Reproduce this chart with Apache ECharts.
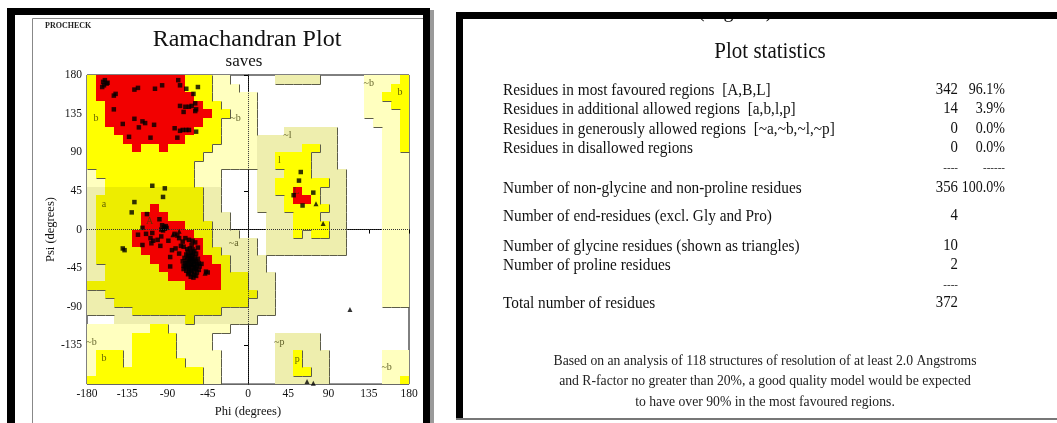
<!DOCTYPE html>
<html><head><meta charset="utf-8">
<script src="https://cdn.jsdelivr.net/npm/echarts/dist/echarts.min.js"></script>
<style>html,body{margin:0;padding:0;background:#fff}#c{width:1057px;height:423px}</style>
</head><body><div id="c"></div>
<script>
// ---------- data ----------
const phiTicks = [-180, -135, -90, -45, 0, 45, 90, 135, 180];
const psiTicks = [-180, -135, -90, -45, 0, 45, 90, 135, 180];

// Region map, one run-length row per 10 deg of psi (180 -> -180), columns phi -180 -> 180
// '.' disallowed, 'o' generous (~b), 'k' generous (~a,~l,~p), 'Y' allowed (b,l,p), 'y' allowed (a), 'R' core (A,B,L)
const regionRows = [
  "Y1 R10 Y3 o2 .5 k5 .5 o4 Y1",
  "Y1 R10 Y3 o3 .14 o3 Y2",
  "Y1 R11 Y2 o5 .12 o2 Y3",
  "Y2 R11 Y2 o4 .12 o3 Y2",
  "Y2 R12 Y2 o3 .12 o4 Y1",
  "Y2 R11 Y2 o4 .13 o3 Y1",
  "Y3 R9 Y3 o4 .3 k6 .5 o2 Y1",
  "Y4 R7 Y4 o4 k9 .5 o2 Y1",
  "Y5 R1 Y2 R1 Y5 o5 k5 Y2 k2 .5 o2 Y1",
  "Y13 o6 k2 Y4 k3 .5 o3",
  "Y12 o7 k2 Y4 k3 .5 o3",
  "o1 Y11 o3 .4 k3 Y3 k4 .4 o3",
  "o2 Y10 o3 .4 k2 Y6 k2 .4 o3",
  "k2 y11 k2 .4 k2 Y2 R1 Y2 k3 .4 o3",
  "k1 y12 k2 .4 k3 Y1 R2 Y1 k3 .4 o3",
  "k1 y6 R1 y5 k2 .4 k3 Y5 k2 .4 o3",
  "k1 y5 R3 y4 k3 .4 k3 Y3 k3 .4 o3",
  "k1 y5 R5 y3 k2 .4 k3 Y4 k2 .4 o3",
  "k1 y4 R7 y2 k3 .3 k3 Y1 k1 Y2 k2 .4 o3",
  "k1 y4 R8 y1 k5 .1 k9 .4 o3",
  "k1 y5 R7 y2 k4 .1 k9 .4 o3",
  "k1 y6 R7 y2 k4 .13 o3",
  "k2 y6 R7 y1 k4 .13 o3",
  "k2 y7 R6 y3 k3 .12 o3",
  "y11 R4 y3 k3 .12 o3",
  "k2 y17 k2 .12 o3",
  "k3 y15 k3 .12 o3",
  "k5 y10 k6 .15",
  ".3 k8 y1 k7 .17",
  "o7 Y2 o7 .20",
  "o5 Y5 o4 .7 k5 .10",
  "o5 Y5 o4 .7 k5 .10",
  "o1 Y3 o1 Y5 o5 .6 k2 Y1 k3 .6 o3",
  "o1 Y3 o1 Y6 o4 .6 k2 Y1 k3 .6 o3",
  "o1 Y12 o2 .6 k2 Y2 k2 .6 o3",
  "Y13 o2 .6 k6 .6 o2 Y1"
];

// non-glycine residues (squares), [phi, psi]
const residuePhiPsi = [
  [-162,172],[-160,174],[-158,170],[-161,168],[-163,166],[-157,171],
  [-150,156],[-148,158],[-150,140],[-127,163],[-123,165],[-104,164],[-96,168],
  [-78,174],[-76,168],[-69,164],[-56,166],[-61,158],[-59,147],
  [-76,144],[-70,143],[-66,143],[-63,144],[-58,140],[-59,138],[-72,137],
  [-140,123],[-127,129],[-118,126],[-115,124],[-105,122],[-133,108],
  [-122,119],[-109,107],[-82,118],[-76,115],[-73,116],[-69,116],[-66,116],
  [-58,114],[-79,107],
  [-107,51],[-93,48],[-95,38],[-127,32],[-130,20],[-113,18],
  [-118,2],[-114,-5],[-107,-4],[-99,12],[-96,5],[-94,3],[-93,1],[-92,4],[-91,2],[-95,-1],[-97,0],
  [-140,-22],[-138,-24],[-123,-6],[-109,-10],[-97,-8],[-89,-13],[-118,-18],[-98,-19],
  [-108,-16],[-106,-13],[-101,-12],[-85,-24],[-82,-5],[-79,-7],[-77,-10],[-73,-14],[-75,-19],
  [-70,-10],[-66,-12],[-81,-22],[-77,-28],[-87,-32],[-87,-43],[-62,-13],[-59,-15],[-63,-18],[-56,-21],
  [-72,-20],[-68,-23],[-47,-49],[-45,-50],[-52,-40],
  [-65,-22],[-62,-23],[-60,-25],[-67,-26],[-64,-27],[-58,-28],[-69,-29],[-62,-30],[-66,-31],
  [-59,-32],[-71,-33],[-64,-33],[-56,-34],[-68,-35],[-61,-35],[-73,-37],[-66,-37],[-58,-37],
  [-63,-38],[-55,-39],[-70,-39],[-60,-40],[-67,-41],[-57,-42],[-72,-42],[-64,-42],[-54,-43],
  [-69,-44],[-61,-44],[-66,-46],[-58,-46],[-72,-46],[-55,-47],[-63,-48],[-69,-48],[-60,-49],
  [-66,-50],[-57,-50],[-63,-52],[-60,-53],[-67,-52],[-58,-54],[-64,-55],[-61,-56],
  [-65,-36],[-62,-41],[-68,-39],[-59,-45],[-63,-34],[-66,-44],[-60,-37],[-57,-40],[-64,-47],
  [-70,-43],[-62,-28],[-67,-31],
  [59,67],[57,57],[51,40],[61,28],[73,43]
];

// glycine residues (triangles), [phi, psi]
const glycinePhiPsi = [
  [-84,-6],[-77,-2],[-48,-51],[-63,-40],[-60,-44],[76,30],[84,7],[114,-93],[66,-177],[73,-179]
];

// region labels [phi, psi, text]
const regionLabels = [
  [-170,129,"b"],[-14,130,"~b"],[-161,29,"a"],[-110,9,"A"],[-16,-16,"~a"],
  [44,110,"~l"],[35,80,"l"],[54,45,"L"],[135,170,"~b"],[170,160,"b"],
  [-175,-131,"~b"],[-161,-150,"b"],[35,-131,"~p"],[55,-151,"p"],[155,-160,"~b"]
];

// statistics panel
const statLabels = [
  "Residues in most favoured regions  [A,B,L]",
  "Residues in additional allowed regions  [a,b,l,p]",
  "Residues in generously allowed regions  [~a,~b,~l,~p]",
  "Residues in disallowed regions",
  "Number of non-glycine and non-proline residues",
  "Number of end-residues (excl. Gly and Pro)",
  "Number of glycine residues (shown as triangles)",
  "Number of proline residues",
  "Total number of residues"
];
const statCounts = ["342", "14", "0", "0", "356", "4", "10", "2", "372"];
const statPercents = ["96.1%", "3.9%", "0.0%", "0.0%", "100.0%", "", "", "", ""];
const footnoteLines = [
  "Based on an analysis of 118 structures of resolution of at least 2.0 Angstroms",
  "and R-factor no greater than 20%, a good quality model would be expected",
  "to have over 90% in the most favoured regions."
];

// ---------- build ----------
const SERIF = '"Liberation Serif", "Times New Roman", "DejaVu Serif", serif';
const CODE = {'.':0, 'o':1, 'k':2, 'Y':3, 'y':4, 'R':5};
const LEVEL = [0, 1, 1, 2, 2, 2];
const FILL = [null, '#ffffbf', '#eeeeae', '#ffff00', '#eded00', '#f20000'];
function expand(rle){ let s=''; rle.split(' ').forEach(t=>{ s += t[0].repeat(+t.slice(1)); }); return s; }
const grid = regionRows.map(expand);
const cells = [], edges = [];
grid.forEach((s, r) => {
  if (s.length !== 36) console.warn('row', r, 'length', s.length);
  for (let c = 0; c < 36; c++) {
    const code = CODE[s[c]];
    const phi = -180 + 10*c, psi = 170 - 10*r;
    if (code) cells.push([phi, psi, code]);
    const lv = LEVEL[code];
    if (c < 35 && LEVEL[CODE[s[c+1]]] < lv) edges.push([phi+10, psi, phi+10, psi+10]);
    if (r < 35 && LEVEL[CODE[grid[r+1][c]]] < lv) edges.push([phi, psi, phi+10, psi]);
  }
});

function renderCell(params, api){
  const a = api.coord([api.value(0), api.value(1) + 10]);
  const b = api.coord([api.value(0) + 10, api.value(1)]);
  const x0 = Math.round(a[0]), y0 = Math.round(a[1]), x1 = Math.round(b[0]), y1 = Math.round(b[1]);
  return {type:'rect', shape:{x:x0, y:y0, width:x1-x0, height:y1-y0}, style:{fill: FILL[api.value(2)]}};
}
function renderEdge(params, api){
  const a = api.coord([api.value(0), api.value(1)]);
  const b = api.coord([api.value(2), api.value(3)]);
  const r = v => Math.round(v) + 0.5;
  return {type:'line', shape:{x1:r(a[0]), y1:r(a[1]), x2:r(b[0]), y2:r(b[1])}, style:{stroke:'#5c5c48', lineWidth:1}};
}

const rowY = [90, 109, 129, 148, 188, 216, 246, 265, 303];
const graphics = [];
function txt(x, y, text, size, align, opts){
  opts = opts || {};
  graphics.push({type:'text', x:x, y:y, z:20, zlevel:0, silent:true, scaleY: opts.sy || 1,
    style:{text:text, font: (opts.weight ? opts.weight + ' ' : '') + size + 'px ' + SERIF, fill: opts.fill || '#111',
      textAlign: align || 'left', textVerticalAlign:'middle'}});
}
function rect(x, y, w, h, fill){ graphics.push({type:'rect', z:30, zlevel:1, silent:true, shape:{x:x,y:y,width:w,height:h}, style:{fill:fill}}); }

// left panel frame
rect(7, 8, 8, 415, '#000'); rect(7, 8, 423, 7, '#000'); rect(423, 8, 7, 415, '#000'); rect(430, 10, 4, 413, '#9a9a9a');
graphics.push({type:'line', z:25, silent:true, shape:{x1:32.5, y1:18.5, x2:423, y2:18.5}, style:{stroke:'#888', lineWidth:1}});
graphics.push({type:'line', z:25, silent:true, shape:{x1:32.5, y1:18.5, x2:32.5, y2:423}, style:{stroke:'#888', lineWidth:1}});
txt(45, 26, 'PROCHECK', 8, 'left', {weight:'bold', fill:'#222'});
txt(247, 40, 'Ramachandran Plot', 24, 'center');
txt(244, 62, 'saves', 17, 'center');

// right panel
txt(698, 12, '(degrees)', 20, 'left');
rect(440, 0, 617, 12, '#fff');
rect(456, 12, 601, 7, '#000'); rect(456, 12, 7, 406, '#000'); rect(456, 418, 601, 2, '#777');
txt(770, 52, 'Plot statistics', 21, 'center', {sy:1.08});
statLabels.forEach((s, i) => {
  txt(503, rowY[i], s, 15.3, 'left', {sy:1.12});
  txt(958, rowY[i], statCounts[i], 14.8, 'right', {sy:1.12});
  if (statPercents[i]) txt(1005, rowY[i], statPercents[i], 14, 'right', {sy:1.15});
});
txt(958, 168, '----', 11, 'right'); txt(1005, 168, '------', 11, 'right'); txt(958, 285, '----', 11, 'right');
footnoteLines.forEach((s, i) => txt(765, 361 + 20.5*i, s, 13.7, 'center', {sy:1.1, fill:'#222'}));

const chart = echarts.init(document.getElementById('c'));
chart.setOption({
  animation: false,
  grid: {left: 87, top: 75, width: 322, height: 315, show: true, borderColor: '#000', borderWidth: 1, backgroundColor: '#fff'},
  xAxis: {type:'value', min: phiTicks[0], max: phiTicks[phiTicks.length-1], interval: 45,
    name: 'Phi (degrees)', nameLocation:'middle', nameGap: 17, nameTextStyle:{fontFamily:SERIF, fontSize:12.5, color:'#111'},
    axisLine:{show:true, lineStyle:{color:'#000', width:1}}, axisTick:{show:true, length:4, lineStyle:{color:'#000'}},
    axisLabel:{fontFamily:SERIF, fontSize:11.5, color:'#111', margin:4}, splitLine:{show:false}},
  yAxis: {type:'value', min: psiTicks[0], max: psiTicks[psiTicks.length-1], interval: 45,
    name: 'Psi (degrees)', nameLocation:'middle', nameGap: 30, nameRotate: 90, nameTextStyle:{fontFamily:SERIF, fontSize:12.5, color:'#111'},
    axisLine:{show:true, lineStyle:{color:'#000', width:1}}, axisTick:{show:true, length:4, lineStyle:{color:'#000'}},
    axisLabel:{fontFamily:SERIF, fontSize:11.5, color:'#111', margin:5, showMaxLabel:true, showMinLabel:false}, splitLine:{show:false}},
  graphic: graphics,
  series: [
    {type:'custom', renderItem: renderCell, data: cells, encode:{x:0, y:1}, z:1, silent:true},
    {type:'custom', renderItem: renderEdge, data: edges, encode:{x:[0,2], y:[1,3]}, z:2, silent:true,
     markLine:{silent:true, symbol:'none', label:{show:false}, lineStyle:{color:'#333', type:[1,1], width:1},
       data:[{xAxis:0},{yAxis:0}]}},
    {type:'scatter', data: regionLabels, symbolSize: 0, z:3, silent:true,
     label:{show:true, position:'inside', fontFamily:SERIF, color:'#3c3c05',
       formatter: p => p.data[2], fontSize: 10}},
    {type:'scatter', data: residuePhiPsi, symbol:'rect', symbolSize: 4.5, itemStyle:{color:'#000'}, z:4, silent:true},
    {type:'scatter', data: glycinePhiPsi, symbol:'triangle', symbolSize: 5, itemStyle:{color:'#000'}, z:5, silent:true}
  ]
});
</script></body></html>
